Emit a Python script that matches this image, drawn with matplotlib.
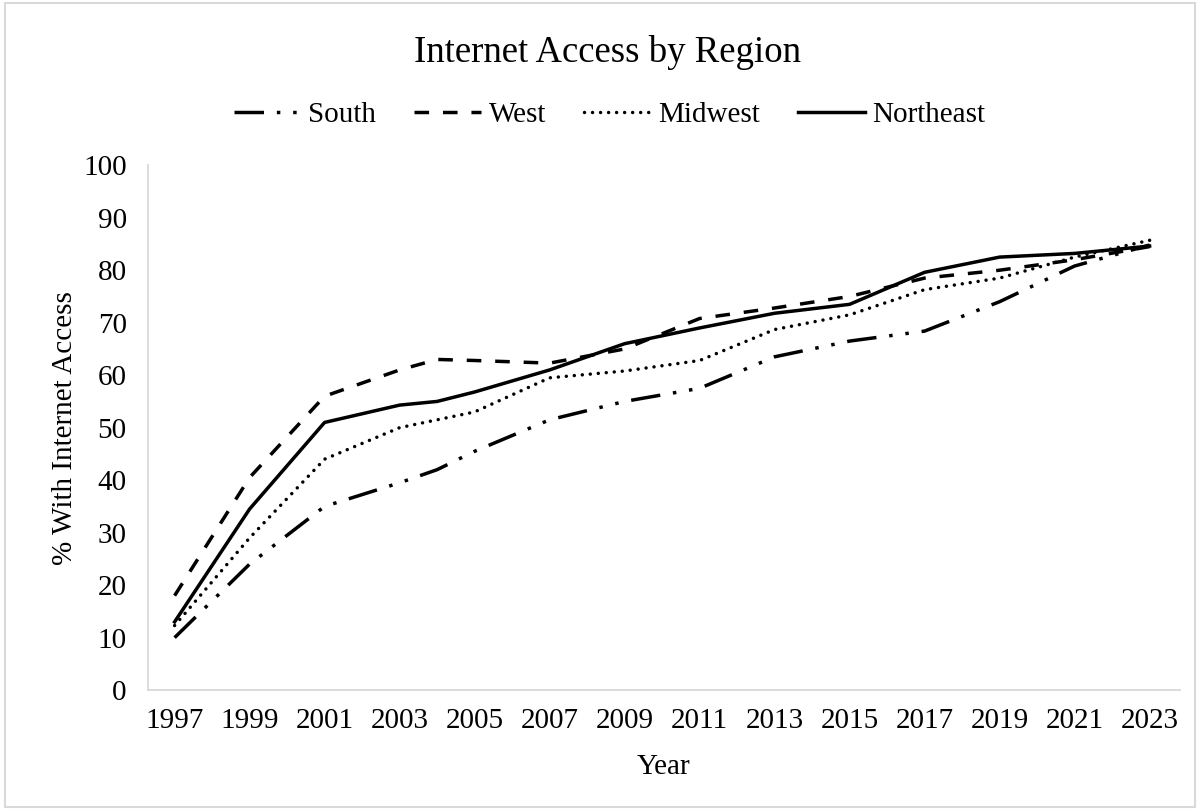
import matplotlib
matplotlib.use("Agg")
import matplotlib.pyplot as plt
from matplotlib.patches import Rectangle

plt.rcParams['font.family'] = ['Liberation Serif', 'DejaVu Serif']

# data
years = [1997, 1999, 2001, 2003, 2004, 2005, 2007, 2009, 2011, 2013, 2015, 2017, 2019, 2021, 2023]
south = [10, 24, 35, 39.5, 42, 45.5, 51.5, 55, 57.5, 63.5, 66.5, 68.4, 74, 80.8, 84.8]
west = [18, 40.5, 56, 61, 63, 62.8, 62.3, 65, 70.8, 72.8, 75, 78.5, 80, 82, 84.5]
midwest = [12.3, 29, 44, 50, 51.5, 53, 59.5, 60.8, 62.8, 68.7, 71.5, 76.3, 78.5, 82.5, 85.7]
northeast = [13, 34.5, 51, 54.3, 55, 56.8, 61, 66, 69, 71.8, 73.5, 79.6, 82.5, 83.2, 84.6]
xtick_years = list(range(1997, 2024, 2))

fig = plt.figure(figsize=(12, 8.1), dpi=100)
ax = fig.add_axes([0.123, 0.148, 0.860, 0.648])

lw = 2.5
ax.plot(years, south, color='black', lw=lw, label='South',
        linestyle=(0, (8.5, 3.7, 1, 3.7, 1, 3.7)))
ax.plot(years, west, color='black', lw=lw, label='West',
        linestyle=(0, (4.2, 4.0)))
ax.plot(years, midwest, color='black', lw=lw, label='Midwest',
        linestyle=(0, (0.01, 2.3)), dash_capstyle='round')
ax.plot(years, northeast, color='black', lw=lw, label='Northeast',
        linestyle='-')

ax.set_xlim(1996.28, 2023.8)
ax.set_ylim(0, 100)
ax.set_yticks(range(0, 101, 10))
ax.set_xticks(xtick_years)
ax.tick_params(axis='both', length=0, labelsize=21, colors='black')
ax.tick_params(axis='y', pad=15)
ax.tick_params(axis='x', pad=13)

for s in ['top', 'right']:
    ax.spines[s].set_visible(False)
for s in ['left', 'bottom']:
    ax.spines[s].set_color('#d9d9d9')
    ax.spines[s].set_linewidth(1.3)

ax.set_xlabel('Year', fontsize=21, labelpad=14)
ax.set_ylabel('% With Internet Access', fontsize=21, labelpad=4)

fig.text(0.506, 0.935, 'Internet Access by Region', fontsize=26.5,
         ha='center', va='center')

fig.legend(loc='center', bbox_to_anchor=(0.508, 0.858), ncol=4, frameon=False,
           fontsize=21, handlelength=2.3, handletextpad=0.25, columnspacing=1.3)

# chart border
fig.patches.append(Rectangle((0.004, 0.004), 0.992, 0.992, transform=fig.transFigure,
                             fill=False, ec='#d9d9d9', lw=1.5))

fig.savefig('out.png', dpi=100)
